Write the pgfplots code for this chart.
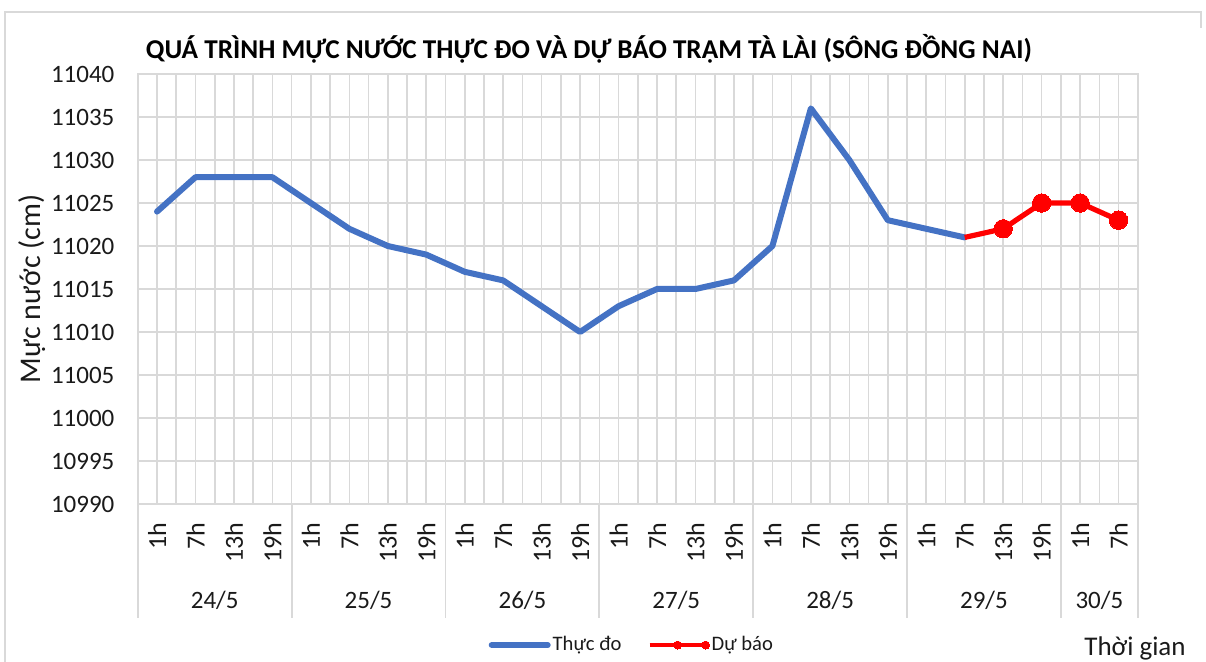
\documentclass[border=0pt]{standalone}
\usepackage{pgfplots}
\pgfplotsset{compat=1.18}
\usepackage{fontspec}
\setmainfont{Carlito}
\definecolor{ublue}{HTML}{4472C4}
\definecolor{ured}{HTML}{FF0000}
\definecolor{grd}{HTML}{D9D9D9}
\definecolor{txt}{HTML}{1A1A1A}
\begin{document}
\begin{tikzpicture}[x=1pt,y=1pt]
\useasboundingbox (0,0) rectangle (603,-331);
\draw[grd, line width=0.9pt] (2.5,-331) -- (2.5,-6) -- (600.5,-6) -- (600.5,-14);
\node[font=\bfseries\fontsize{13.6}{15}\selectfont, text=black] at (294.5,-24.5) {QUÁ TRÌNH MỰC NƯỚC THỰC ĐO VÀ DỰ BÁO TRẠM TÀ LÀI (SÔNG ĐỒNG NAI)};
\node[font=\fontsize{13.5}{15}\selectfont, text=txt] at (567.5,-324) {Thời gian};
\begin{axis}[
  at={(68.9pt,-37pt)}, anchor=north west,
  scale only axis, width=500pt, height=215pt,
  clip=false,
  xmin=-0.5, xmax=25.5, ymin=10990, ymax=11040,
  ytick={10990,10995,...,11040},
  scaled y ticks=false,
  xtick={0,...,25},
  xticklabels={1h,7h,13h,19h,1h,7h,13h,19h,1h,7h,13h,19h,1h,7h,13h,19h,1h,7h,13h,19h,1h,7h,13h,19h,1h,7h},
  minor xtick={-0.5,0.5,...,25.5},
  grid=both,
  major grid style={grd, line width=0.8pt},
  minor grid style={grd, line width=0.8pt},
  axis line style={grd, line width=0.9pt},
  tick style={draw=none},
  /pgf/number format/assume math mode=true,
  /pgf/number format/1000 sep={},
  yticklabel style={font=\fontsize{12.5}{14}\selectfont, text=txt, inner sep=0pt, anchor=east,
    /pgf/number format/fixed, /pgf/number format/precision=0},
  yticklabel shift=11.5pt,
  xticklabel style={font=\fontsize{13}{14}\selectfont, text=txt, inner sep=0pt, rotate=90, anchor=east},
  xticklabel shift=9pt,
  ylabel={Mực nước (cm)},
  ylabel style={font=\fontsize{15}{16}\selectfont, text=txt, at={(axis description cs:-0.1058,0.5)}, anchor=center},
  legend columns=2,
  legend style={at={(0.494,-0.328)}, anchor=center, draw=none, fill=none,
    font=\fontsize{10.3}{12}\selectfont, text=txt,
    nodes={inner xsep=1pt},
    /tikz/every even column/.append style={column sep=12pt}},
  legend image code/.code={\draw[mark repeat=2,mark phase=2,#1] plot coordinates {(0pt,0pt) (14pt,0pt) (28pt,0pt)};},
]
\addplot[ublue, line width=3pt, line join=round, line cap=round] coordinates {
(0,11024) (1,11028) (2,11028) (3,11028) (4,11025) (5,11022) (6,11020) (7,11019)
(8,11017) (9,11016) (10,11013) (11,11010) (12,11013) (13,11015) (14,11015) (15,11016)
(16,11020) (17,11036) (18,11030) (19,11023) (20,11022) (21,11021)};
\addlegendentry{Thực đo}
\addplot[ured, line width=2.6pt, line join=round, mark=*, mark size=4.6pt, mark indices={2,3,4,5},
  mark options={fill=ured, draw=ured, line width=0pt},
  legend image post style={mark size=2pt, line width=2pt}] coordinates {
(21,11021) (22,11022) (23,11025) (24,11025) (25,11023)};
\addlegendentry{Dự báo}
\pgfplotsinvokeforeach{-0.5,3.5,7.5,11.5,15.5,19.5,23.5,25.5}{
  \draw[grd, line width=0.9pt] (axis cs:#1,10990) -- ([yshift=-57pt]axis cs:#1,10990);
}
\node[font=\fontsize{12.5}{14}\selectfont, text=txt] at ([yshift=-48pt]axis cs:1.5,10990) {24/5};
\node[font=\fontsize{12.5}{14}\selectfont, text=txt] at ([yshift=-48pt]axis cs:5.5,10990) {25/5};
\node[font=\fontsize{12.5}{14}\selectfont, text=txt] at ([yshift=-48pt]axis cs:9.5,10990) {26/5};
\node[font=\fontsize{12.5}{14}\selectfont, text=txt] at ([yshift=-48pt]axis cs:13.5,10990) {27/5};
\node[font=\fontsize{12.5}{14}\selectfont, text=txt] at ([yshift=-48pt]axis cs:17.5,10990) {28/5};
\node[font=\fontsize{12.5}{14}\selectfont, text=txt] at ([yshift=-48pt]axis cs:21.5,10990) {29/5};
\node[font=\fontsize{12.5}{14}\selectfont, text=txt] at ([yshift=-48pt]axis cs:24.5,10990) {30/5};
\end{axis}
\end{tikzpicture}
\end{document}
